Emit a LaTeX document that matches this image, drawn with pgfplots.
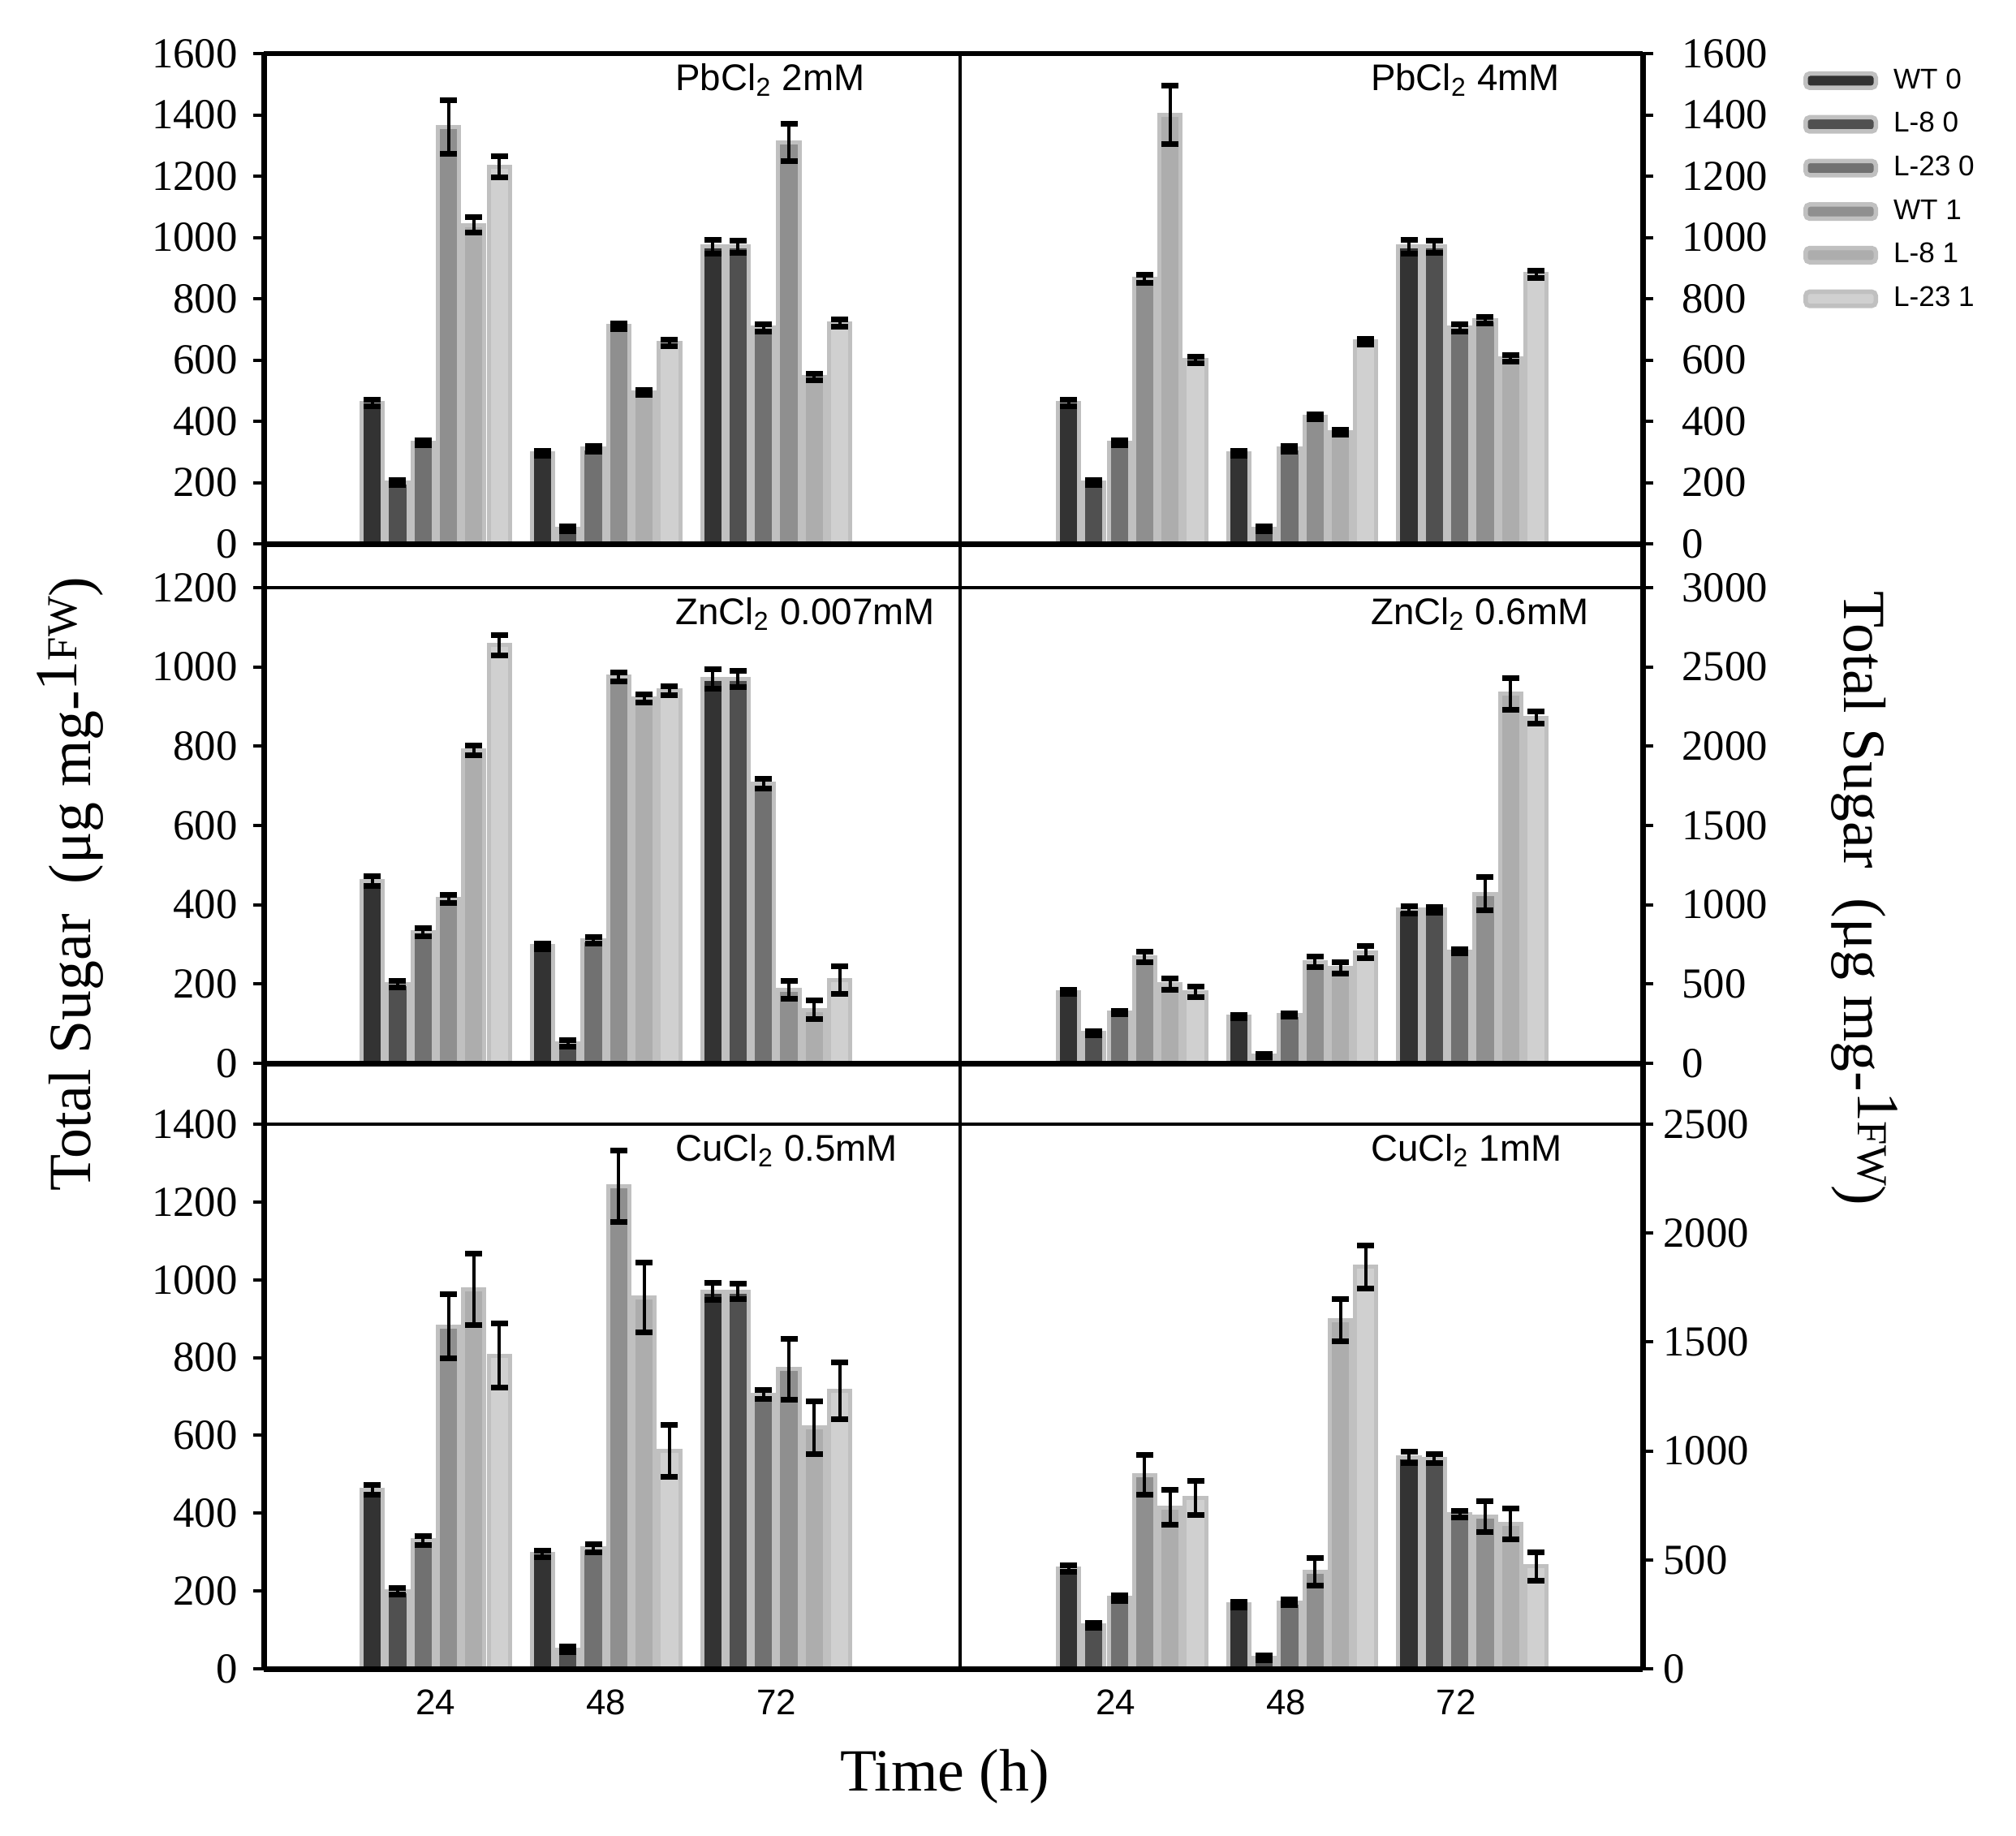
\documentclass[border=0pt]{standalone}
\usepackage{pgfplots}
\pgfplotsset{compat=1.18}
\usepackage{pgfplotstable}
\usepackage{fontspec}
\setmainfont{Liberation Serif}
\newfontfamily\arial{Liberation Sans}

\definecolor{c1}{HTML}{333333}
\definecolor{c2}{HTML}{505050}
\definecolor{c3}{HTML}{717171}
\definecolor{c4}{HTML}{8F8F8F}
\definecolor{c5}{HTML}{ADADAD}
\definecolor{c6}{HTML}{D0D0D0}
\definecolor{halo}{HTML}{C0C0C0}

% columns: a=WT 0, b=L-8 0, c=L-23 0, d=WT 1, e=L-8 1, f=L-23 1 ; *e = error
\pgfplotstableread{
g a ae b be c ce d de e ee f fe
0 460 10 200 8 330 8 1360 88 1040 25 1230 35
1 295 8 50 8 310 8 710 10 495 8 655 10
2 970 23 970 20 705 12 1310 60 545 10 720 12
}\tA
\pgfplotstableread{
g a ae b be c ce d de e ee f fe
0 460 10 200 8 330 8 865 12 1400 95 600 10
1 295 8 50 8 310 8 415 8 365 8 660 10
2 970 23 970 20 705 12 730 10 605 10 880 12
}\tB
\pgfplotstableread{
g a ae b be c ce d de e ee f fe
0 460 12 200 8 330 10 415 10 790 12 1055 26
1 295 8 50 8 310 8 975 12 920 10 940 12
2 970 25 970 20 705 12 185 23 135 23 210 34
}\tC
\pgfplotstableread{
g a ae b be c ce d de e ee f fe
0 450 12 190 12 320 12 670 35 500 35 450 35
1 295 12 50 10 305 12 640 35 600 35 700 38
2 970 23 970 18 705 12 1070 104 2330 100 2180 37
}\tD
\pgfplotstableread{
g a ae b be c ce d de e ee f fe
0 460 12 200 8 330 12 880 82 975 92 805 83
1 295 8 50 8 310 10 1240 92 955 90 560 67
2 970 22 970 20 705 12 770 79 620 68 715 73
}\tE
\pgfplotstableread{
g a ae b be c ce d de e ee f fe
0 460 14 200 12 325 12 890 91 740 80 785 78
1 295 12 50 12 305 12 445 62 1600 96 1845 98
2 970 25 965 20 710 14 700 71 665 72 470 66
}\tF

\pgfplotsset{
  eb/.style={draw=halo, line width=0.5mm,
    error bars/.cd, y dir=both, y explicit,
    error bar style={line width=0.4mm, black},
    error mark options={rotate=90, mark size=1.05mm, line width=0.7mm, black}},
  panel/.style={scale only axis, ybar=0.51mm, bar width=2.62mm,
    axis x line*=bottom, xmin=-1.01, ymin=0,
    xtick={0,1,2}, xticklabels={}, xtick style={draw=none},
    tick align=outside, major tick length=1.3mm,
    ytick style={line width=0.4mm, black},
    axis line style={line width=0.7mm, black},
    tick label style={font=\fontsize{15}{15}\selectfont},
    /pgf/number format/assume math mode=true,
    /pgf/number format/1000 sep={},
    axis on top, clip=false},
  leftp/.style={panel, axis y line*=left, xmax=3.08, width=85.8mm,
    yticklabel style={xshift=-0.7mm}},
  rightp/.style={panel, axis y line*=right, xmax=3.0, width=84.1mm},
  bottomp/.style={xticklabels={24,48,72},
    xticklabel style={font=\arial\fontsize{12.5}{13}\selectfont}},
}
\tikzset{ttl/.style={anchor=base west, yshift=-4.5mm, font=\arial\fontsize{13}{14}\selectfont}}

\newcommand{\bars}[1]{%
  \addplot[fill=c1, eb] table[x=g, y=a, y error=ae]{#1};
  \addplot[fill=c2, eb] table[x=g, y=b, y error=be]{#1};
  \addplot[fill=c3, eb] table[x=g, y=c, y error=ce]{#1};
  \addplot[fill=c4, eb] table[x=g, y=d, y error=de]{#1};
  \addplot[fill=c5, eb] table[x=g, y=e, y error=ee]{#1};
  \addplot[fill=c6, eb] table[x=g, y=f, y error=fe]{#1};
}
\newcommand{\legimg}[1]{\addlegendimage{legend image code/.code={\draw[fill=#1, draw=halo, line width=0.55mm, rounded corners=0.5mm] (0mm,-0.875mm) rectangle (8.65mm,0.875mm);}}}

\begin{document}
\begin{tikzpicture}
\useasboundingbox (0,0) rectangle (248.4mm,-226.2mm);

% Row 1
\begin{axis}[leftp, at={(32.5mm,-67.0mm)}, anchor=south west, height=60.4mm,
  ymax=1600, ytick={0,200,...,1600}]
  \bars{\tA}
  \node[ttl] at (rel axis cs:0.577,1) {PbCl\textsubscript{2} 2mM};
\end{axis}
\begin{axis}[rightp, at={(118.3mm,-67.0mm)}, anchor=south west, height=60.4mm,
  ymax=1600, ytick={0,200,...,1600}, yticklabel style={xshift=2.3mm}]
  \bars{\tB}
  \node[ttl] at (rel axis cs:0.587,1) {PbCl\textsubscript{2} 4mM};
\end{axis}

% Row 2
\begin{axis}[leftp, at={(32.5mm,-131.0mm)}, anchor=south west, height=58.6mm,
  ymax=1200, ytick={0,200,...,1200}]
  \bars{\tC}
  \node[ttl] at (rel axis cs:0.577,1) {ZnCl\textsubscript{2} 0.007mM};
\end{axis}
\begin{axis}[rightp, at={(118.3mm,-131.0mm)}, anchor=south west, height=58.6mm,
  ymax=3000, ytick={0,500,...,3000}, yticklabel style={xshift=2.3mm}]
  \bars{\tD}
  \node[ttl] at (rel axis cs:0.587,1) {ZnCl\textsubscript{2} 0.6mM};
\end{axis}

% Row 3
\begin{axis}[leftp, bottomp, at={(32.5mm,-205.6mm)}, anchor=south west, height=67.1mm,
  ymax=1400, ytick={0,200,...,1400}]
  \bars{\tE}
  \node[ttl] at (rel axis cs:0.577,1) {CuCl\textsubscript{2} 0.5mM};
\end{axis}
\begin{axis}[rightp, bottomp, at={(118.3mm,-205.6mm)}, anchor=south west, height=67.1mm,
  ymax=2500, ytick={0,500,...,2500}, xticklabel style={xshift=-2mm}]
  \bars{\tF}
  \node[ttl] at (rel axis cs:0.587,1) {CuCl\textsubscript{2} 1mM};
\end{axis}

% Legend
\begin{axis}[hide axis, scale only axis, width=2cm, height=2cm,
  xmin=0, xmax=1, ymin=0, ymax=1,
  at={(222.2mm,-8.45mm)}, anchor=north west,
  legend cell align=left,
  legend style={at={(0,1)}, anchor=north west, draw=none, fill=none,
    inner sep=0pt, outer sep=0pt, row sep=2.4mm,
    nodes={inner sep=0pt},
    font=\arial\fontsize{10}{10}\selectfont,
    /tikz/every odd column/.append style={column sep=1.9mm}}]
  \legimg{c1}\addlegendentry{WT 0}
  \legimg{c2}\addlegendentry{L-8 0}
  \legimg{c3}\addlegendentry{L-23 0}
  \legimg{c4}\addlegendentry{WT 1}
  \legimg{c5}\addlegendentry{L-8 1}
  \legimg{c6}\addlegendentry{L-23 1}
\end{axis}

% frame lines
\draw[line width=0.55mm] (32.5mm,-6.6mm) -- (202.4mm,-6.6mm);
\draw[line width=0.4mm] (32.5mm,-72.4mm) -- (202.4mm,-72.4mm);
\draw[line width=0.4mm] (32.5mm,-138.5mm) -- (202.4mm,-138.5mm);
\draw[line width=0.7mm] (32.5mm,-6.6mm) -- (32.5mm,-205.6mm);
\draw[line width=0.45mm] (118.3mm,-6.6mm) -- (118.3mm,-205.6mm);
\draw[line width=0.7mm] (202.4mm,-6.6mm) -- (202.4mm,-205.6mm);

% axis titles
\node[rotate=90, font=\fontsize{21}{21}\selectfont] at (8.7mm,-108.9mm)
  {Total Sugar~~(μg mg-\raisebox{0.23em}{1{\fontsize{15}{15}\selectfont FW}})};
\node[rotate=-90, font=\fontsize{21}{21}\selectfont] at (229.7mm,-110.7mm)
  {Total Sugar~~(μg mg-\raisebox{0.23em}{1{\fontsize{15}{15}\selectfont FW}})};
\node[font=\fontsize{21}{21}\selectfont] at (116.4mm,-218.9mm) {Time (h)};
\end{tikzpicture}
\end{document}
